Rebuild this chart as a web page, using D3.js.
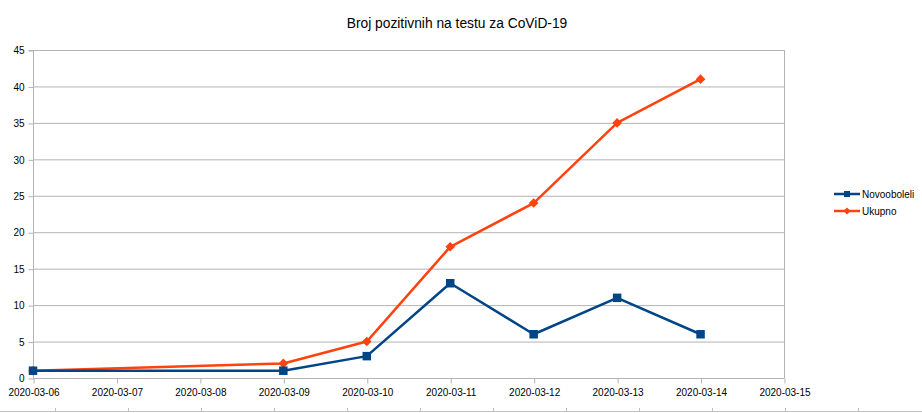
<!DOCTYPE html>
<html><head><meta charset="utf-8">
<script src="https://cdn.jsdelivr.net/npm/d3@7"></script>
<style>body{margin:0;background:#fff}svg{display:block}text{font-family:"Liberation Sans",Arial,sans-serif}</style>
</head><body>
<svg id="c" width="922" height="413"></svg>
<script>
const title = "Broj pozitivnih na testu za CoViD-19";
const dates = ["2020-03-06","2020-03-09","2020-03-10","2020-03-11","2020-03-12","2020-03-13","2020-03-14"];
const novooboleli = [1,1,3,13,6,11,6];
const ukupno = [1,2,5,18,24,35,41];
const xTickLabels = ["2020-03-06","2020-03-07","2020-03-08","2020-03-09","2020-03-10","2020-03-11","2020-03-12","2020-03-13","2020-03-14","2020-03-15"];
const yTicks = [0,5,10,15,20,25,30,35,40,45];
const seriesNames = ["Novooboleli","Ukupno"];
const colors = ["#004586","#ff420e"];

const svg = d3.select("#c");
const parse = d3.utcParse("%Y-%m-%d");
const L=33,R=784,T=50,B=378;
const x = d3.scaleUtc().domain([parse(xTickLabels[0]), parse(xTickLabels[xTickLabels.length-1])]).range([L,R]);
const y = d3.scaleLinear().domain([0,45]).range([B,T]);

// gridlines
svg.append("g").selectAll("line").data(yTicks).join("line")
  .attr("x1",L).attr("x2",R).attr("y1",d=>y(d)+0.5).attr("y2",d=>y(d)+0.5)
  .attr("stroke","#b3b3b3").attr("stroke-width",1);
// right border
svg.append("line").attr("x1",R+0.5).attr("x2",R+0.5).attr("y1",T).attr("y2",B).attr("stroke","#b3b3b3");

// y axis
const ya = svg.append("g").attr("transform",`translate(${L+0.5},0.5)`)
  .call(d3.axisLeft(y).tickValues(yTicks).tickSize(5).tickPadding(4).tickFormat(d3.format("d")));
ya.select(".domain").attr("stroke","#b3b3b3").attr("d",`M-5,${T}H0V${B}`);
ya.selectAll(".tick line").attr("stroke","#b3b3b3");
ya.selectAll("text").attr("font-size",10).attr("fill","#000").attr("font-family","Liberation Sans, Arial, sans-serif");

// x axis
const xa = svg.append("g").attr("transform",`translate(0.5,${B+0.5})`)
  .call(d3.axisBottom(x).tickValues(xTickLabels.map(parse)).tickSize(5).tickPadding(5).tickFormat(d3.utcFormat("%Y-%m-%d")));
xa.select(".domain").attr("stroke","#b3b3b3").attr("d",`M${L},0H${R}`);
xa.selectAll(".tick line").attr("stroke","#b3b3b3");
xa.selectAll("text").attr("font-size",10).attr("fill","#000").attr("font-family","Liberation Sans, Arial, sans-serif");

// title
svg.append("text").attr("x",457).attr("y",28).attr("text-anchor","middle").attr("font-size",13.8).attr("fill","#000").text(title);

const data = [novooboleli, ukupno];
const line = d3.line().x((d,i)=>x(parse(dates[i]))).y(d=>y(d));
// draw Ukupno first then Novooboleli on top
[1,0].forEach(s=>{
  const g = svg.append("g");
  g.append("path").datum(data[s]).attr("d",line).attr("fill","none").attr("stroke",colors[s]).attr("stroke-width",2.5).attr("stroke-linejoin","round");
  g.selectAll("path.m").data(data[s]).join("path").attr("class","m")
    .attr("transform",(d,i)=>`translate(${x(parse(dates[i]))},${y(d)})`)
    .attr("d", s===0 ? d3.symbol(d3.symbolSquare,72)() : "M0,-4.8L4.8,0L0,4.8L-4.8,0Z")
    .attr("fill",colors[s]);
});

// legend
const lg = svg.append("g");
seriesNames.forEach((n,i)=>{
  const yy = 194 + i*17;
  lg.append("line").attr("x1",834).attr("x2",860).attr("y1",yy).attr("y2",yy).attr("stroke",colors[i]).attr("stroke-width",2.5);
  lg.append("path").attr("transform",`translate(847,${yy})`)
    .attr("d", i===0 ? d3.symbol(d3.symbolSquare,36)() : "M0,-3.5L3.5,0L0,3.5L-3.5,0Z").attr("fill",colors[i]);
  lg.append("text").attr("x",862).attr("y",yy+4).attr("font-size",10).attr("fill","#000").text(n);
});

// bottom cropped ruler
const rg = svg.append("g");
rg.append("line").attr("x1",0).attr("x2",922).attr("y1",411.5).attr("y2",411.5).attr("stroke","#c0c0c0");
d3.range(55,922,73).forEach(v=>{
  rg.append("line").attr("x1",v+0.5).attr("x2",v+0.5).attr("y1",408).attr("y2",411).attr("stroke","#c0c0c0");
});
</script>
</body></html>
